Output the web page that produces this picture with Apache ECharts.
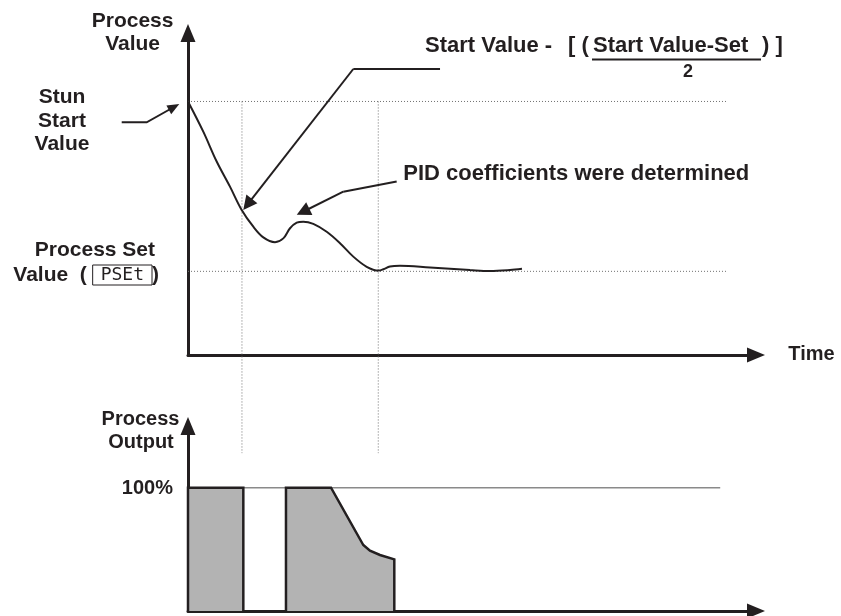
<!DOCTYPE html>
<html>
<head>
<meta charset="utf-8">
<title>Auto-tuning: process value and output</title>
<script src="https://cdn.jsdelivr.net/npm/echarts@6/dist/echarts.min.js"></script>
<style>
  html, body { margin: 0; padding: 0; background: #ffffff; }
  #chart { width: 841px; height: 616px; }
</style>
</head>
<body>
<div id="chart"></div>
<script>
// Levels of the process value (same units as the upper axis)
const START_VALUE = 100;     // stun start value
const SET_VALUE = 33;        // process set value
const FULL_OUTPUT = 100;     // 100 % output

// Times marking the half-way crossing and the settling point
const markerTimes = [9.5, 33.5];
const REF_END = 94.9;        // right end of the dotted reference levels
const OUT_REF_END = 93.7;    // right end of the 100 % line
const MARKER_LOW = -38.7;    // markers run down into the output panel

// Process value during the tuning run
const pvTime  = [0, 2.69, 5.05, 7.39, 9.45, 11.5, 13.26, 15.32, 16.78, 17.96, 19.14, 20.3, 22.06,
                 24.42, 26.76, 29.1, 31.46, 33.57, 34.38, 35.56, 37.32, 42.61, 49.65, 53.17, 56.69, 58.8];
const pvValue = [100, 88.1, 76.3, 66.4, 57.2, 50.6, 46.4, 44.5, 46.0, 50.0, 52.2, 52.6, 51.7,
                 48.6, 44.1, 38.8, 34.8, 33.3, 33.8, 34.9, 35.2, 34.5, 33.5, 33.1, 33.5, 34.0];

// Process output: first full-power pulse
const outTimeA  = [0, 0, 9.74, 9.74];
const outValueA = [0, 100, 100, 0];
// Process output: second pulse, tapering off
const outTimeB  = [17.25, 17.25, 25.18, 30.86, 32.04, 33.8, 36.32, 36.32];
const outValueB = [0, 100, 100, 53.5, 48.9, 45.4, 41.9, 0];

const INK = '#231f20';
const GRID_GREY = '#707070';
const FILL_GREY = '#b3b3b3';
const FONT = '"Liberation Sans", Arial, sans-serif';

const zip = (xs, ys) => xs.map((x, i) => [x, ys[i]]);

const chart = echarts.init(document.getElementById('chart'), null, { renderer: 'canvas' });

function axis(gridIndex, max) {
  return {
    type: 'value', gridIndex, min: 0, max,
    axisLine: {
      show: true, onZero: false,
      lineStyle: { color: INK, width: 3 },
      symbol: ['none', 'triangle'], symbolSize: [15, 18]
    },
    axisTick: { show: false },
    axisLabel: { show: false },
    splitLine: { show: false }
  };
}

const dotted = { color: GRID_GREY, width: 1, type: [1, 2] };

const series = [
  // dotted start and set levels
  {
    type: 'line', xAxisIndex: 0, yAxisIndex: 0, symbol: 'none', silent: true,
    data: [[0, START_VALUE], [REF_END, START_VALUE]], lineStyle: dotted, z: 1
  },
  {
    type: 'line', xAxisIndex: 0, yAxisIndex: 0, symbol: 'none', silent: true,
    data: [[0, SET_VALUE], [REF_END, SET_VALUE]], lineStyle: dotted, z: 1
  },
  // vertical time markers
  ...markerTimes.map(t => ({
    type: 'line', xAxisIndex: 0, yAxisIndex: 0, symbol: 'none', silent: true, clip: false,
    data: [[t, START_VALUE], [t, MARKER_LOW]], lineStyle: dotted, z: 1
  })),
  // process value curve with its leader arrows
  {
    type: 'line', name: 'Process Value', xAxisIndex: 0, yAxisIndex: 0,
    data: zip(pvTime, pvValue), smooth: 0.35, symbol: 'none', clip: false,
    lineStyle: { color: INK, width: 2 }, z: 3,
    markLine: {
      silent: true, animation: false,
      symbol: ['none', 'triangle'], symbolSize: 14,
      label: { show: false },
      lineStyle: { color: INK, width: 2, type: 'solid' },
      data: [
        [{ coord: [44.37, 112.8] }, { coord: [29.1, 112.8], symbol: 'none' }],
        [{ coord: [29.1, 112.8] }, { coord: [10.49, 59.4] }],
        [{ coord: [36.74, 68.4] }, { coord: [27.34, 64.4], symbol: 'none' }],
        [{ coord: [27.34, 64.4] }, { coord: [20.25, 56.5] }]
      ]
    }
  },
  // 100 % output level
  {
    type: 'line', xAxisIndex: 1, yAxisIndex: 1, symbol: 'none', silent: true,
    data: [[0, FULL_OUTPUT], [OUT_REF_END, FULL_OUTPUT]],
    lineStyle: { color: '#8a8a8a', width: 1.5 }, z: 1
  },
  // output pulses
  {
    type: 'line', xAxisIndex: 1, yAxisIndex: 1, symbol: 'none', silent: true,
    data: zip(outTimeA, outValueA),
    lineStyle: { color: INK, width: 2.5, join: 'miter' },
    areaStyle: { color: FILL_GREY, opacity: 1 }, z: 2
  },
  {
    type: 'line', xAxisIndex: 1, yAxisIndex: 1, symbol: 'none', silent: true,
    data: zip(outTimeB, outValueB),
    lineStyle: { color: INK, width: 2.5, join: 'miter' },
    areaStyle: { color: FILL_GREY, opacity: 1 }, z: 2
  }
];

function label(text, x, y, size, align) {
  return {
    type: 'text', x, y, silent: true, z: 10,
    style: {
      text, fill: INK, font: 'bold ' + size + 'px ' + FONT,
      align: align || 'left', verticalAlign: 'middle'
    }
  };
}

const graphic = [
  label('Process', 132.6, 21, 21, 'center'),
  label('Value', 132.6, 44.4, 21, 'center'),
  label('Stun', 62, 97.7, 21, 'center'),
  label('Start', 62, 121, 21, 'center'),
  label('Value', 62, 144.4, 21, 'center'),
  label('Process Set', 155, 250.4, 21, 'right'),
  {
    type: 'text', x: 13.3, y: 275, silent: true, z: 10,
    style: {
      text: '{v|Value  ( }{b|PSEt}{v|)}',
      verticalAlign: 'middle', align: 'left',
      rich: {
        v: { fill: INK, font: 'bold 21px ' + FONT },
        b: {
          fill: INK, fontFamily: '"DejaVu Sans Mono", monospace', fontSize: 18,
          fontWeight: 'normal', lineHeight: 20,
          borderColor: INK, borderWidth: 1, padding: [1, 8, 1, 8]
        }
      }
    }
  },
  label('Time', 788.3, 354.8, 20),
  label('PID coefficients were determined', 403.3, 174.1, 22),
  label('Start Value -', 425, 45.7, 22),
  label('[ (', 568, 45.7, 22),
  label('Start Value-Set', 593, 45.7, 22),
  label(') ]', 762, 45.7, 22),
  label('2', 688, 72.1, 18, 'center'),
  {
    type: 'line', silent: true, z: 10,
    shape: { x1: 592, y1: 59.5, x2: 761, y2: 59.5 },
    style: { stroke: INK, lineWidth: 2 }
  },
  label('Process', 140.5, 419.1, 20, 'center'),
  label('Output', 141, 442.4, 20, 'center'),
  label('100%', 173, 488.8, 20, 'right'),
  // leader pointing at the stun start value
  {
    type: 'polyline', silent: true, z: 10,
    shape: { points: [[121.7, 122.3], [146.7, 122.3], [169.5, 109.5]] },
    style: { stroke: INK, lineWidth: 2, fill: null }
  },
  {
    type: 'polygon', silent: true, z: 10,
    shape: { points: [[179.3, 104], [171.2, 114.3], [166.4, 105.5]] },
    style: { fill: INK }
  }
];

chart.setOption({
  animation: false,
  backgroundColor: '#ffffff',
  grid: [
    { left: 188, right: 85, top: 33, bottom: 261 },
    { left: 188, right: 85, top: 426, bottom: 5 }
  ],
  xAxis: [axis(0, 100), axis(1, 100)],
  yAxis: [axis(0, 127), axis(1, 150)],
  series,
  graphic
});
</script>
</body>
</html>
